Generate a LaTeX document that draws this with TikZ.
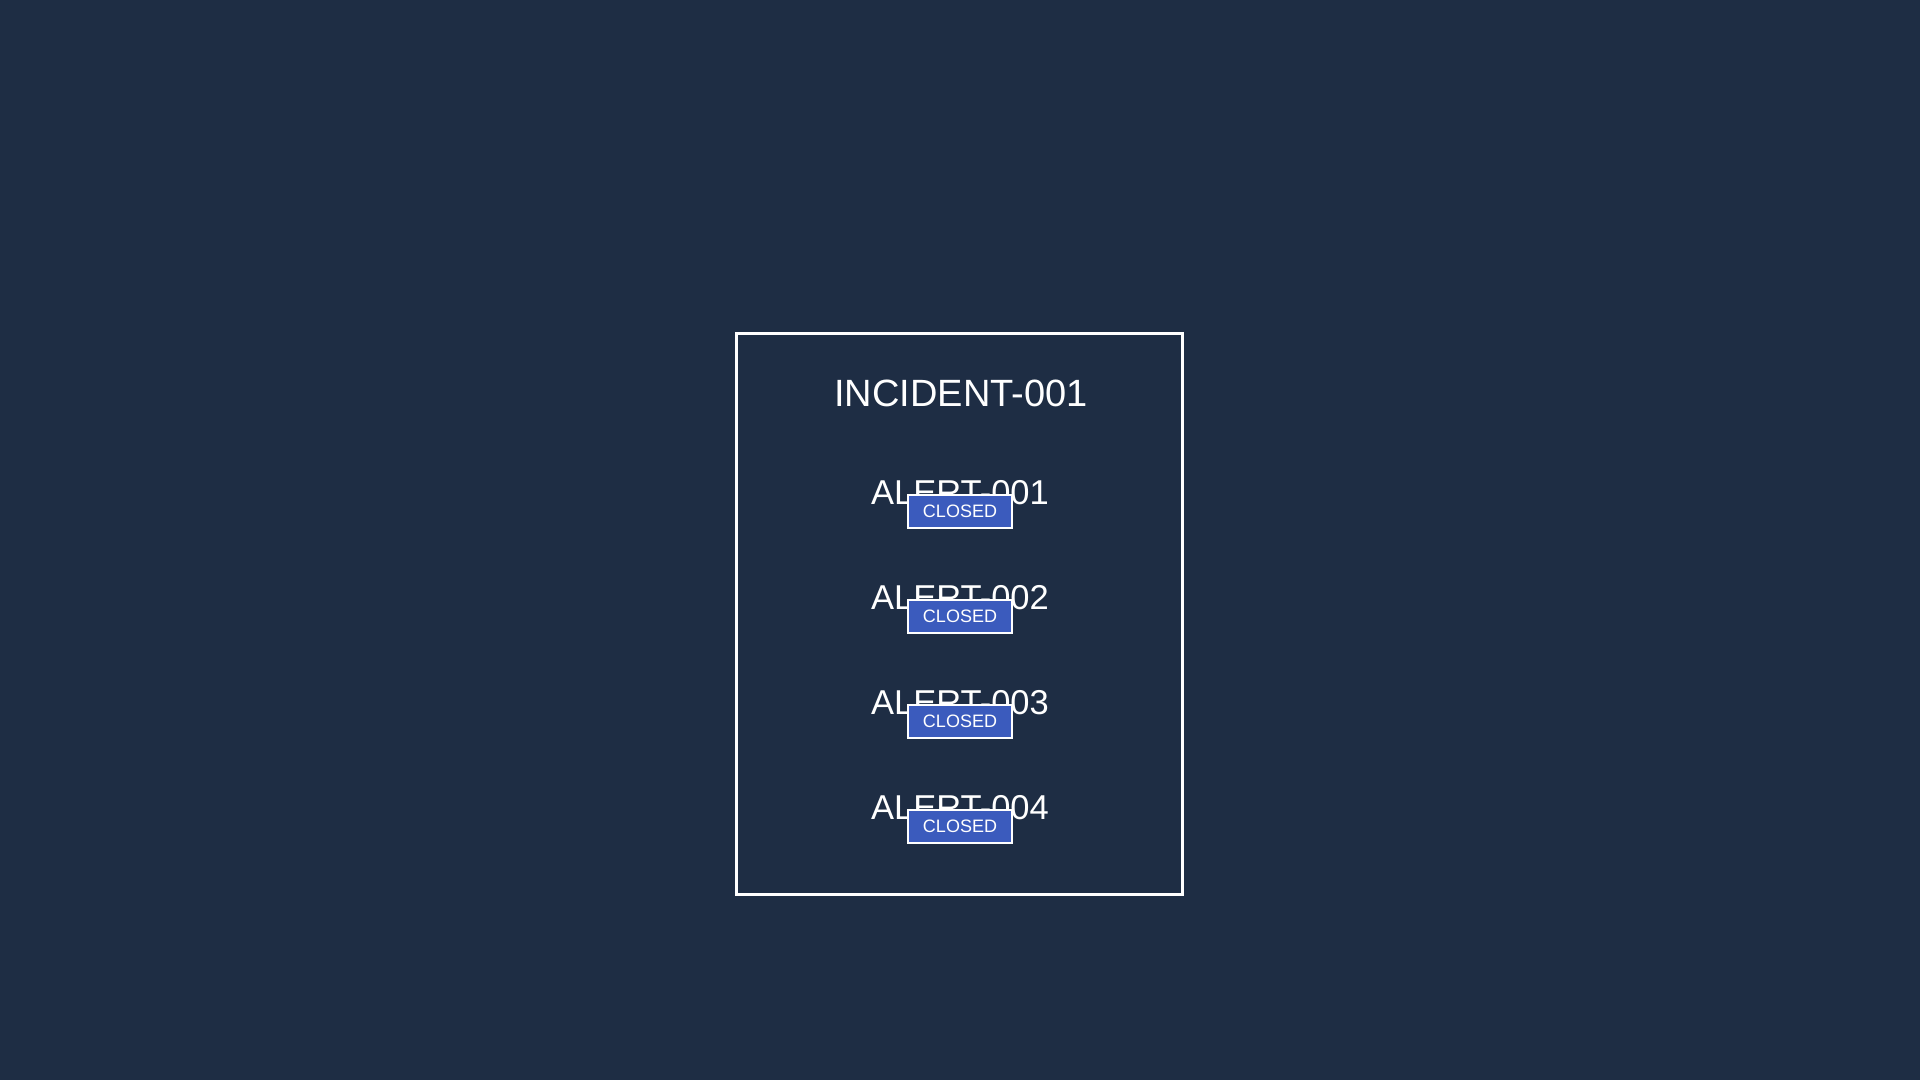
\documentclass[tikz,border=0pt]{standalone}
\usepackage{fontspec}
\setmainfont{Liberation Sans}
\definecolor{bgc}{HTML}{1E2D44}
\definecolor{badgec}{HTML}{3B5BBD}
\begin{document}
\begin{tikzpicture}[x=1pt,y=-1pt,
  title/.style={text=white,font=\fontsize{38}{38}\selectfont,anchor=base,inner sep=0pt},
  alert/.style={text=white,font=\fontsize{34.5}{34.5}\selectfont,anchor=base,inner sep=0pt},
  badge/.style={draw=white,line width=2pt,fill=badgec,text=white,font=\fontsize{18}{18}\selectfont,minimum width=104pt,minimum height=33pt,inner sep=0pt}]
\fill[bgc] (0,0) rectangle (1920,1080);
\useasboundingbox (0,0) rectangle (1920,1080);
\node[draw=white,line width=2.5pt,minimum width=446pt,minimum height=561pt,inner sep=0pt] (frame) at (959.5,614) {};
\node[title] (inc) at (961,406) {INCIDENT-001};
\foreach \i/\y in {1/504,2/609,3/714,4/819}{
  \node[alert] (a\i) at (960,\y) {ALERT-00\i};
  \node[badge] (b\i) at (960,\y+7) {CLOSED};
}
\end{tikzpicture}
\end{document}
